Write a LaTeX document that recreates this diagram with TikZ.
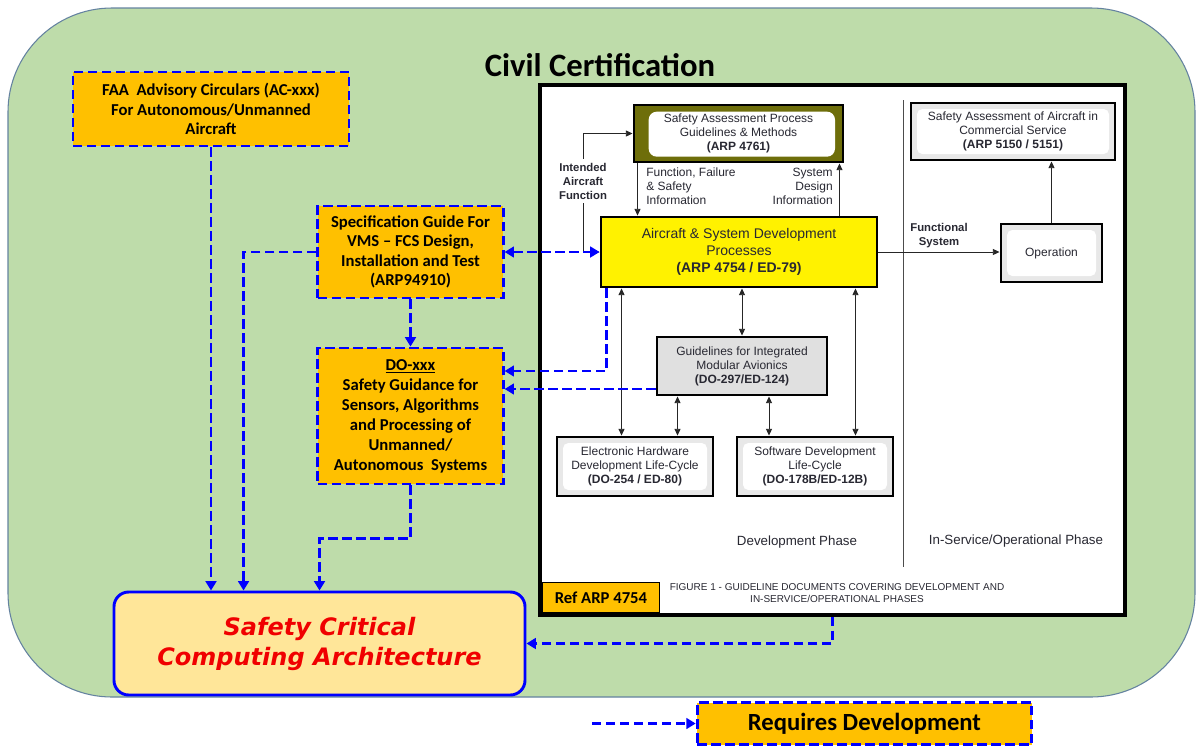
\documentclass[tikz,border=0pt]{standalone}
\usepackage{fontspec}
\setmainfont{Liberation Sans}
\newfontfamily\calibri{Carlito}
\newfontfamily\dejavu{DejaVu Sans}
\usetikzlibrary{arrows.meta}
\usetikzlibrary{calc}

\definecolor{bggreen}{RGB}{190,220,170}
\definecolor{bgedge}{RGB}{100,130,160}
\definecolor{reqblue}{RGB}{0,0,255}
\definecolor{reqorange}{RGB}{255,192,0}
\definecolor{archfill}{RGB}{255,230,153}
\definecolor{archred}{RGB}{240,0,0}
\definecolor{olivebox}{RGB}{110,110,10}
\definecolor{figtext}{RGB}{40,40,50}

\tikzset{
  reqbox/.style={draw=reqblue, line width=2.2pt, dash pattern=on 7pt off 3.5pt, fill=reqorange,
    align=center, inner sep=2pt, font=\calibri\bfseries\fontsize{12.5}{14.5}\selectfont},
  reqline/.style={draw=reqblue, line width=2.2pt, dash pattern=on 7pt off 3.5pt,
    -{Triangle[length=7pt,width=8pt]}},
  reqdbl/.style={reqline, {Triangle[length=7pt,width=8pt]}-{Triangle[length=7pt,width=8pt]}},
  docframe/.style={draw=black, line width=2.2pt, align=center, text=figtext, inner sep=2pt,
    font=\fontsize{9}{10.5}\selectfont},
  docbox/.style={docframe, fill=black!9,
    path picture={\fill[white, rounded corners=4pt]
      ([shift={(4.5pt,4.5pt)}]path picture bounding box.south west) rectangle
      ([shift={(-4.5pt,-4.5pt)}]path picture bounding box.north east);}},
  sapbox/.style={docframe, fill=olivebox,
    path picture={\fill[white, rounded corners=6pt]
      ([shift={(11pt,4pt)}]path picture bounding box.south west) rectangle
      ([shift={(-6pt,-5pt)}]path picture bounding box.north east);}},
  figarrow/.style={draw=black!85, line width=0.6pt, -{Triangle[length=5pt,width=4.5pt]}},
  figdbl/.style={figarrow, {Triangle[length=5pt,width=4.5pt]}-{Triangle[length=5pt,width=4.5pt]}},
  figlabel/.style={text=figtext, font=\fontsize{9}{10.5}\selectfont, inner sep=0pt},
}

\begin{document}
\begin{tikzpicture}[x=0.75pt,y=-0.75pt]
  \useasboundingbox (0,0) rectangle (1196,747);
  \fill[bggreen, draw=bgedge, line width=0.8pt, rounded corners=78pt] (8,8) rectangle (1195,697);

  \node[font=\calibri\bfseries\fontsize{24.5}{28}\selectfont] (title) at (600,65) {Civil Certification};

  \node[reqbox, minimum width=207pt, minimum height=55.5pt] (faa) at (211,109)
    {FAA\ \ Advisory Circulars (AC-xxx)\\For Autonomous/Unmanned\\Aircraft};
  \node[reqbox, minimum width=139pt, minimum height=69pt] (spec) at (410.5,252)
    {Specification Guide For\\VMS – FCS Design,\\Installation and Test\\(ARP94910)};
  \node[reqbox, minimum width=139pt, minimum height=102pt, font=\calibri\bfseries\fontsize{12.5}{15}\selectfont] (doxxx) at (410.5,416)
    {\underline{DO-xxx}\\Safety Guidance for\\Sensors, Algorithms\\and Processing of\\Unmanned/\\Autonomous\ \ Systems};
  \node[draw=reqblue, line width=2.2pt, fill=archfill, rounded corners=11pt, minimum width=308.25pt,
    minimum height=77.25pt, align=center, text=archred,
    font=\dejavu\bfseries\itshape\fontsize{18}{22.5}\selectfont] (arch) at (319.5,643.5)
    {Safety Critical\\Computing Architecture};

  \node[draw=black, line width=2.6pt, fill=white, minimum width=438.75pt, minimum height=397.5pt,
    inner sep=0pt] (fig) at (832.5,350) {};
  \node[draw=black, line width=0.8pt, fill=reqorange, anchor=south west, minimum width=88pt,
    minimum height=22.5pt, font=\calibri\bfseries\fontsize{12.5}{14}\selectfont] (ref)
    at ([shift={(2.6pt,2.6pt)}]fig.south west) {Ref ARP 4754};
  \node[figlabel, font=\fontsize{7.5}{9}\selectfont, align=center] (caption) at (837,593)
    {FIGURE 1 - GUIDELINE DOCUMENTS COVERING DEVELOPMENT AND\\IN-SERVICE/OPERATIONAL PHASES};
  \draw[black!70, line width=0.5pt] (903,100) -- (903,567);
  \node[figlabel, font=\fontsize{10}{12}\selectfont] (devphase) at (797,542) {Development Phase};
  \node[figlabel, font=\fontsize{10}{12}\selectfont] (opphase) at (1016,541) {In-Service/Operational Phase};

  \node[sapbox, minimum width=156.75pt, minimum height=42.75pt] (sap) at (738.5,133.5)
    {Safety Assessment Process\\Guidelines \& Methods\\\textbf{(ARP 4761)}};
  \node[docframe, fill=yellow, minimum width=207pt, minimum height=52.5pt,
    font=\fontsize{10.5}{12.75}\selectfont] (acsys) at (739,252)
    {Aircraft \& System Development\\Processes\\\textbf{(ARP 4754 / ED-79)}};
  \node[docbox, minimum width=153pt, minimum height=42.75pt] (saa) at (1013,131.5)
    {Safety Assessment of Aircraft in\\Commercial Service\\\textbf{(ARP 5150 / 5151)}};
  \node[docbox, minimum width=75.75pt, minimum height=43.5pt] (oper) at (1051.5,253) {Operation};
  \node[docframe, fill=black!12, minimum width=127.5pt, minimum height=43.5pt] (ima) at (742,366)
    {Guidelines for Integrated\\Modular Avionics\\\textbf{(DO-297/ED-124)}};
  \node[docbox, minimum width=117pt, minimum height=44.25pt] (ehw) at (635,466.5)
    {Electronic Hardware\\Development Life-Cycle\\\textbf{(DO-254 / ED-80)}};
  \node[docbox, minimum width=117pt, minimum height=44.25pt] (swd) at (815,466.5)
    {Software Development\\Life-Cycle\\\textbf{(DO-178B/ED-12B)}};

  \node[figlabel, inner sep=3pt, align=center, font=\bfseries\fontsize{8.5}{10.5}\selectfont] (intended)
    at (583,181) {Intended\\Aircraft\\Function};
  \node[figlabel, anchor=north west, align=left] (ffsinfo) at (646,168)
    {Function, Failure\\\& Safety\\Information};
  \node[figlabel, anchor=north east, align=right] (sdinfo) at (833,168)
    {System\\Design\\Information};
  \node[figlabel, align=center, font=\bfseries\fontsize{8.5}{10.5}\selectfont] (funcsys) at (939,236)
    {Functional\\System};

  \draw[figarrow] (intended.north) |- (sap.west);
  \draw[figarrow] (intended.south) |- (acsys.west);
  \draw[figarrow] ([xshift=3.75pt]sap.south west) -- ([xshift=3.75pt]sap.south west |- acsys.north);
  \draw[figarrow] ([xshift=-3.75pt]sap.south east |- acsys.north) -- ([xshift=-3.75pt]sap.south east);
  \draw[figarrow] (acsys.east) -- (acsys.east -| oper.west);
  \draw[figarrow] (oper.north) -- (oper.north |- saa.south);
  \draw[figdbl] ([xshift=16.5pt]acsys.south west) -- ([xshift=16.5pt]acsys.south west |- ehw.north);
  \draw[figdbl] (ima.north |- acsys.south) -- (ima.north);
  \draw[figdbl] ([xshift=-17.25pt]acsys.south east) -- ([xshift=-17.25pt]acsys.south east |- swd.north);
  \draw[figdbl] ([xshift=16.5pt]ima.south west) -- ([xshift=16.5pt]ima.south west |- ehw.north);
  \draw[figdbl] ([xshift=20.25pt]ima.south) -- ([xshift=20.25pt]ima.south |- swd.north);

  \draw[reqline] (faa.south) -- (faa.south |- arch.north);
  \draw[reqline] (spec.west) -| ([xshift=98.25pt]arch.north west);
  \draw[reqline] (spec.south) -- (doxxx.north);
  \draw[reqline] (doxxx.south) -- ++(0,53) -| (arch.north);
  \draw[reqdbl] (spec.east) -- (spec.east -| acsys.west);
  \draw[reqline] ([xshift=5.25pt]acsys.south west) |- ([yshift=33.75pt]doxxx.east);
  \draw[reqline] ([yshift=-17.25pt]ima.west) -- ([yshift=-17.25pt]ima.west -| doxxx.east);
  \draw[reqline] (fig.south) |- (arch.east);

  \node[reqbox, minimum width=251pt, minimum height=31.5pt, font=\calibri\bfseries\fontsize{18.5}{20}\selectfont]
    (legend) at (864.5,723.5) {Requires Development};
  \coordinate (legtail) at (592,723.5);
  \draw[reqline] (legtail) -- (legend.west);
\end{tikzpicture}
\end{document}
